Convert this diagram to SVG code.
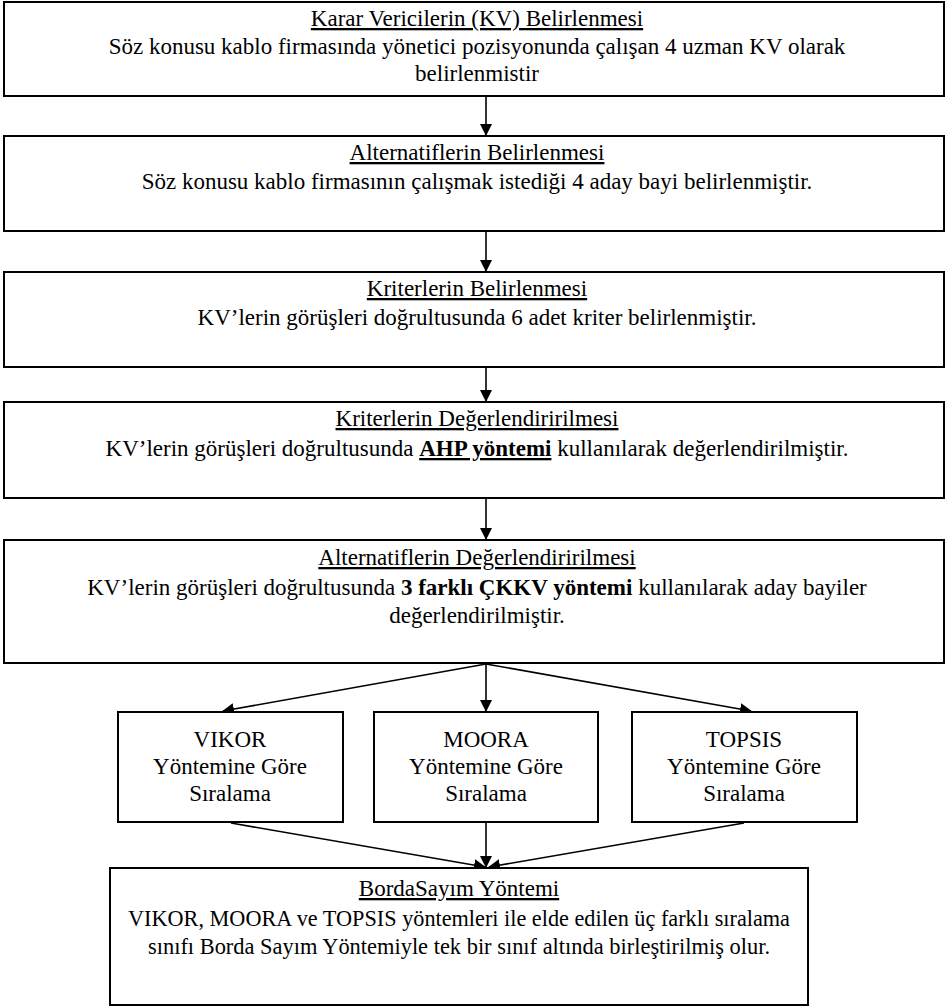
<svg xmlns="http://www.w3.org/2000/svg" width="947" height="1008" viewBox="0 0 947 1008">
  <style>
    .box { fill: #fff; stroke: #000; stroke-width: 2; }
    text { font-family: 'Liberation Serif', 'Times New Roman', Tinos, 'Noto Serif', 'DejaVu Serif', serif; font-size: 23px; fill: #000; text-anchor: middle; }
    .u { text-decoration: underline; }
    .b { font-weight: bold; }
    .conn { stroke: #000; stroke-width: 1.6; fill: none; marker-end: url(#arrow); }
  </style>
  <defs>
    <marker id="arrow" markerWidth="12" markerHeight="12" refX="11" refY="6" orient="auto" markerUnits="userSpaceOnUse" viewBox="0 0 12 12">
      <path d="M0,0 L12,6 L0,12 z" fill="#000"/>
    </marker>
  </defs>
  <rect width="947" height="1008" fill="#fff"/>

  <g id="connectors">
    <line class="conn" x1="486" y1="97" x2="486" y2="135"/>
    <line class="conn" x1="486" y1="232" x2="486" y2="271"/>
    <line class="conn" x1="486" y1="367" x2="486" y2="401"/>
    <line class="conn" x1="486" y1="499" x2="486" y2="539"/>
    <line class="conn" x1="486" y1="664" x2="223" y2="711"/>
    <line class="conn" x1="486" y1="664" x2="486" y2="711"/>
    <line class="conn" x1="486" y1="664" x2="751" y2="711"/>
    <line class="conn" x1="231" y1="823" x2="485" y2="867"/>
    <line class="conn" x1="486" y1="823" x2="486" y2="867"/>
    <line class="conn" x1="744" y1="823" x2="489" y2="867"/>
  </g>

  <g id="kv">
    <rect class="box" x="4" y="2" width="940" height="94"/>
    <text x="477" y="26"><tspan class="u">Karar Vericilerin (KV) Belirlenmesi</tspan></text>
    <text x="477" y="54">Söz konusu kablo firmasında yönetici pozisyonunda çalışan 4 uzman KV olarak</text>
    <text x="477" y="81">belirlenmistir</text>
  </g>

  <g id="alternatifler">
    <rect class="box" x="4" y="136" width="940" height="95"/>
    <text x="477" y="160"><tspan class="u">Alternatiflerin Belirlenmesi</tspan></text>
    <text x="477" y="189">Söz konusu kablo firmasının çalışmak istediği 4 aday bayi belirlenmiştir.</text>
  </g>

  <g id="kriterler">
    <rect class="box" x="4" y="272" width="940" height="95"/>
    <text x="477" y="296"><tspan class="u">Kriterlerin Belirlenmesi</tspan></text>
    <text x="477" y="325">KV’lerin görüşleri doğrultusunda 6 adet kriter belirlenmiştir.</text>
  </g>

  <g id="kriter-degerlendirme">
    <rect class="box" x="4" y="402" width="940" height="96"/>
    <text x="477" y="426"><tspan class="u">Kriterlerin Değerlendiririlmesi</tspan></text>
    <text x="477" y="456">KV’lerin görüşleri doğrultusunda <tspan class="b u">AHP yöntemi</tspan> kullanılarak değerlendirilmiştir.</text>
  </g>

  <g id="alternatif-degerlendirme">
    <rect class="box" x="4" y="540" width="940" height="123"/>
    <text x="477" y="565"><tspan class="u">Alternatiflerin Değerlendiririlmesi</tspan></text>
    <text x="477" y="595">KV’lerin görüşleri doğrultusunda <tspan class="b">3 farklı ÇKKV yöntemi</tspan> kullanılarak aday bayiler</text>
    <text x="477" y="623">değerlendirilmiştir.</text>
  </g>

  <g id="vikor">
    <rect class="box" x="118" y="712" width="225" height="110"/>
    <text x="230" y="747">VIKOR</text>
    <text x="230" y="774">Yöntemine Göre</text>
    <text x="230" y="801">Sıralama</text>
  </g>

  <g id="moora">
    <rect class="box" x="374" y="712" width="224" height="110"/>
    <text x="486" y="747">MOORA</text>
    <text x="486" y="774">Yöntemine Göre</text>
    <text x="486" y="801">Sıralama</text>
  </g>

  <g id="topsis">
    <rect class="box" x="632" y="712" width="225" height="110"/>
    <text x="744" y="747">TOPSIS</text>
    <text x="744" y="774">Yöntemine Göre</text>
    <text x="744" y="801">Sıralama</text>
  </g>

  <g id="borda">
    <rect class="box" x="110" y="868" width="698" height="137"/>
    <text x="459" y="896"><tspan class="u">BordaSayım Yöntemi</tspan></text>
    <text x="459" y="926" textLength="662" lengthAdjust="spacingAndGlyphs">VIKOR, MOORA ve TOPSIS yöntemleri ile elde edilen üç farklı sıralama</text>
    <text x="459" y="954" textLength="622" lengthAdjust="spacingAndGlyphs">sınıfı Borda Sayım Yöntemiyle tek bir sınıf altında birleştirilmiş olur.</text>
  </g>
</svg>
